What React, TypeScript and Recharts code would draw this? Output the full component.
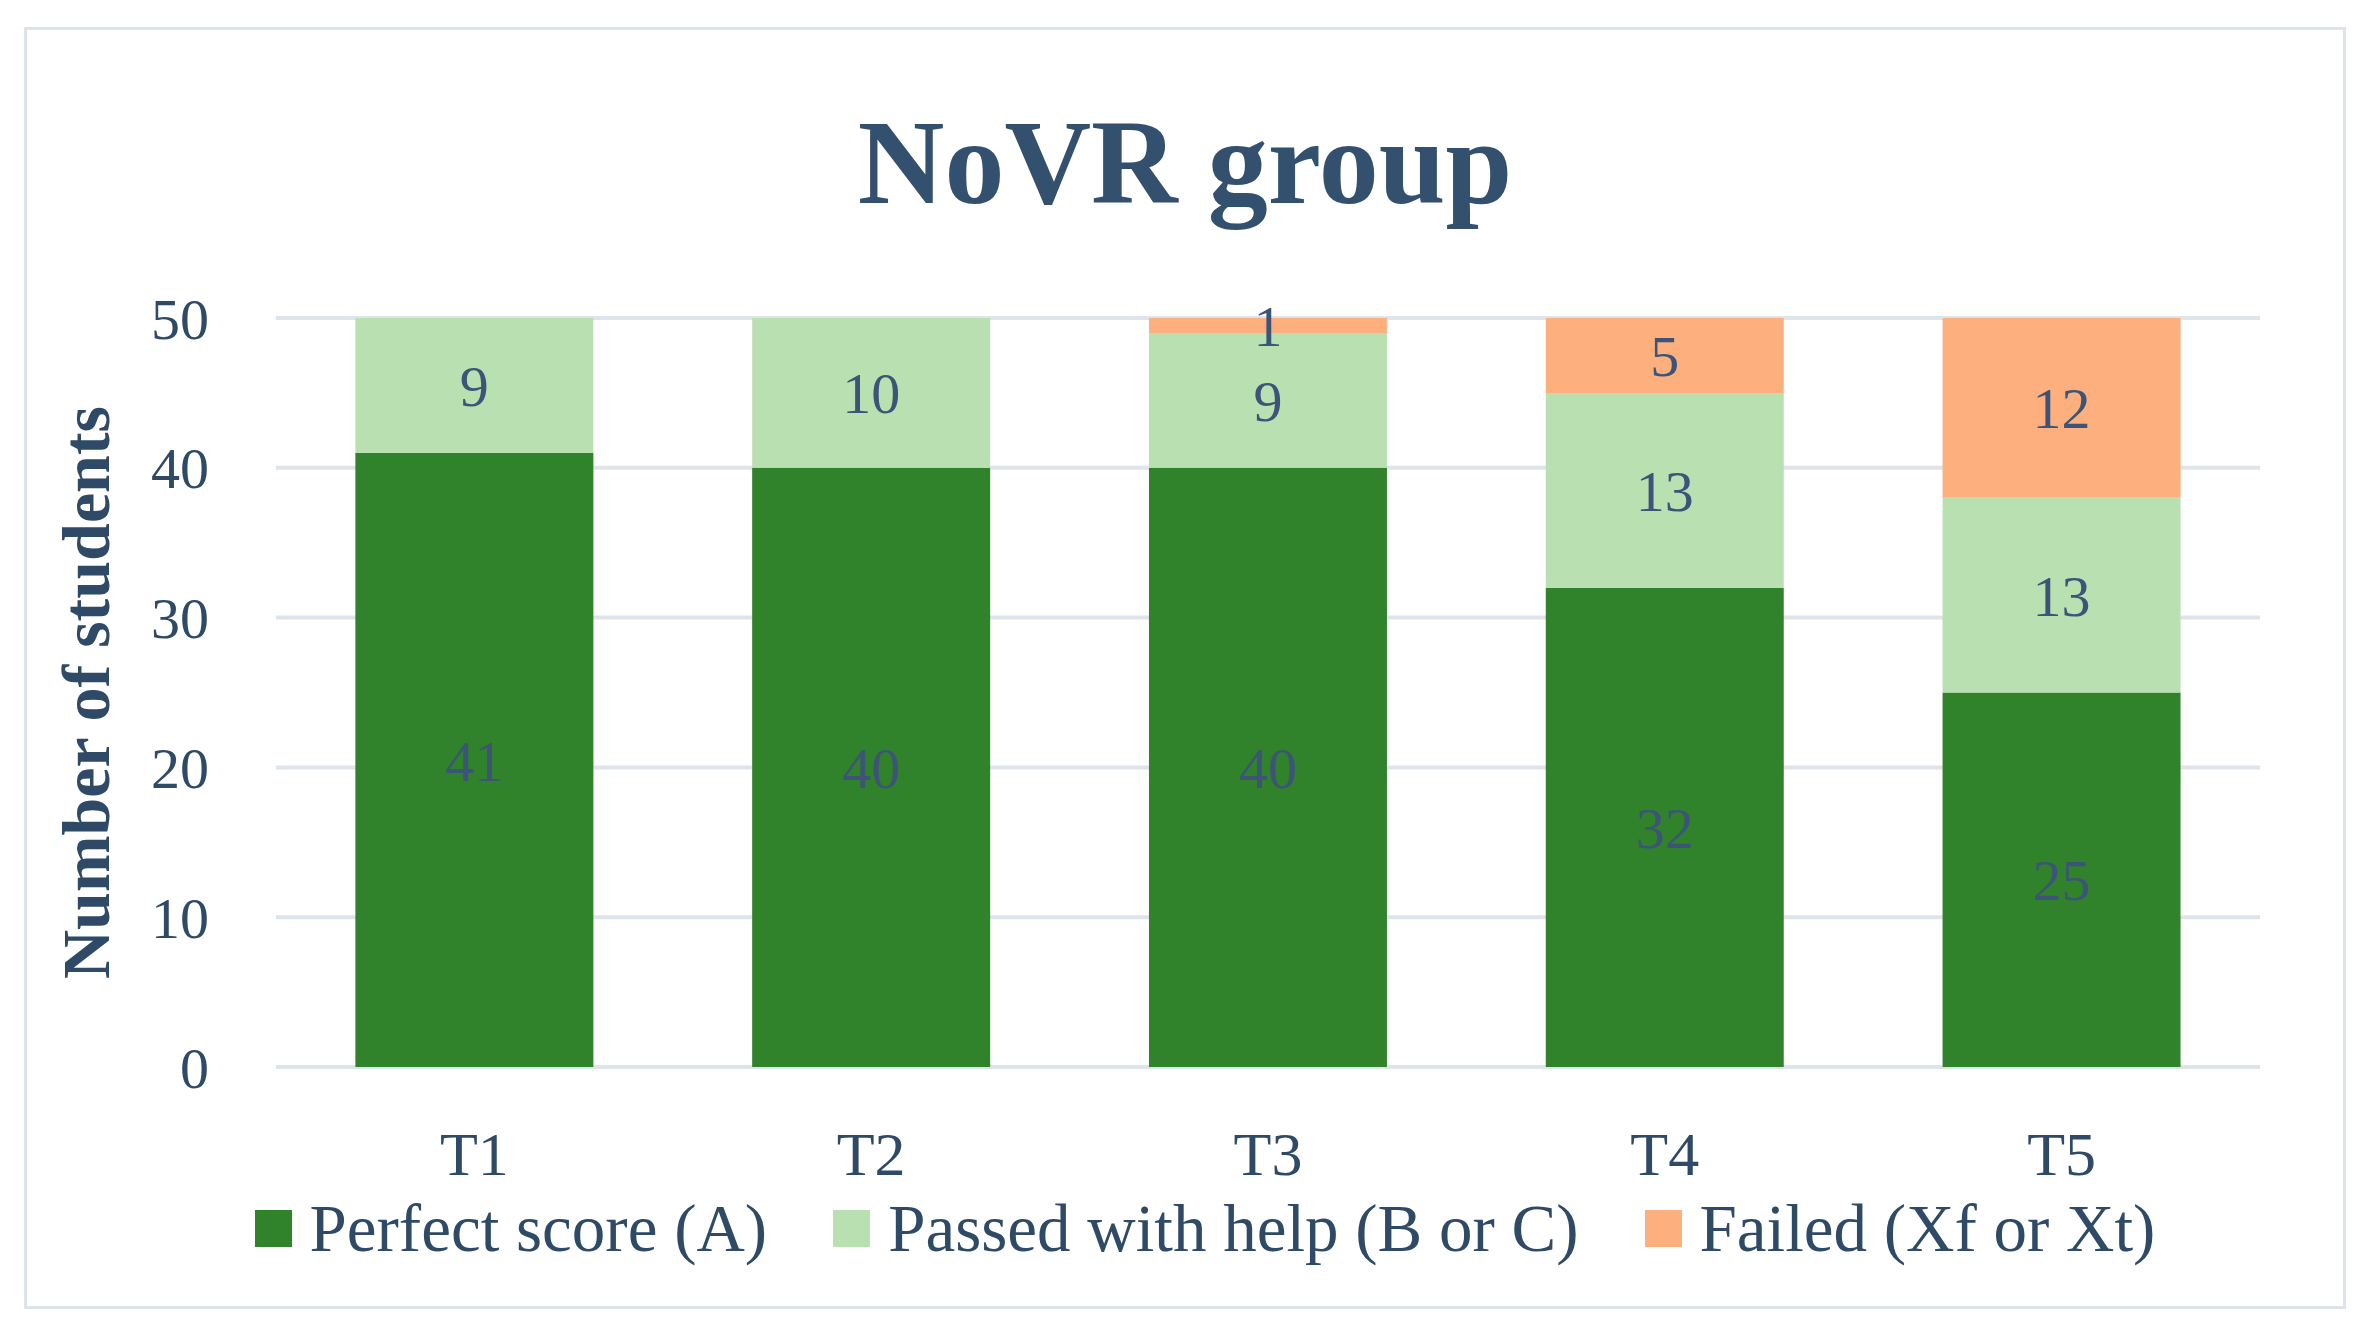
import React from 'react';
import { BarChart, Bar, XAxis, YAxis, CartesianGrid, LabelList } from 'recharts';

const categories = ['T1', 'T2', 'T3', 'T4', 'T5'];
const perfect = [41, 40, 40, 32, 25];
const passed = [9, 10, 9, 13, 13];
const failed = [0, 0, 1, 5, 12];
const yTicks = [0, 10, 20, 30, 40, 50];

const series = [
  { key: 'perfect', name: 'Perfect score (A)', color: '#31832b' },
  { key: 'passed', name: 'Passed with help (B or C)', color: '#b9e0b1' },
  { key: 'failed', name: 'Failed (Xf or Xt)', color: '#fdb07e' },
];

const data = categories.map((c, i) => ({
  name: c,
  perfect: perfect[i],
  passed: passed[i],
  failed: failed[i],
}));

const FONT = '"Liberation Serif", "DejaVu Serif", serif';
const TEXT = '#2f4a66';
const LABEL = '#3d5478';

const hideZero = (v: any) => (v === 0 ? '' : v);

const App: React.FC = () => {
  return (
    <div style={{ position: 'absolute', left: 0, top: 0, width: 2366, height: 1333, background: '#fff', fontFamily: FONT }}>
      <div
        style={{
          position: 'absolute',
          left: 24,
          top: 27,
          width: 2316,
          height: 1276,
          border: '3px solid #dce3ea',
        }}
      />
      <div
        style={{
          position: 'absolute',
          left: 24,
          width: 2322,
          top: 88,
          textAlign: 'center',
          fontSize: 120,
          fontWeight: 'bold',
          color: '#34506f',
          lineHeight: '150px',
        }}
      >
        NoVR group
      </div>
      <div style={{ position: 'absolute', left: 0, top: 0 }}>
        <BarChart
          width={2366}
          height={1333}
          data={data}
          margin={{ top: 318, right: 106, bottom: 236, left: 76 }}
          barCategoryGap="20%"
        >
          <CartesianGrid vertical={false} stroke="#dde4ec" strokeWidth={4} />
          <XAxis
            dataKey="name"
            height={30}
            axisLine={false}
            tickLine={false}
            tickMargin={58}
            tick={{ fill: TEXT, fontSize: 62, fontFamily: FONT }}
          />
          <YAxis
            width={200}
            domain={[0, 50]}
            ticks={yTicks}
            axisLine={false}
            tickLine={false}
            tickMargin={61}
            tick={{ fill: TEXT, fontSize: 58, fontFamily: FONT }}
            label={{
              value: 'Number of students',
              angle: -90,
              position: 'insideLeft',
              offset: 9,
              style: { textAnchor: 'middle', fill: TEXT, fontSize: 68, fontWeight: 'bold', fontFamily: FONT },
            }}
          />
          {series.map((s) => (
            <Bar key={s.key} dataKey={s.key} name={s.name} stackId="a" fill={s.color} isAnimationActive={false}>
              <LabelList
                dataKey={s.key}
                position="center"
                formatter={hideZero}
                style={{ fill: LABEL, fontSize: 58, fontFamily: FONT }}
              />
            </Bar>
          ))}
        </BarChart>
      </div>
      <div
        style={{
          position: 'absolute',
          left: 44,
          width: 2322,
          top: 1188,
          display: 'flex',
          justifyContent: 'center',
          alignItems: 'center',
          fontSize: 67,
          color: TEXT,
          lineHeight: '80px',
        }}
      >
        {series.map((s) => (
          <div key={s.key} style={{ display: 'flex', alignItems: 'center', margin: '0 33px' }}>
            <span style={{ display: 'inline-block', width: 37, height: 37, background: s.color, marginRight: 18 }} />
            <span>{s.name}</span>
          </div>
        ))}
      </div>
    </div>
  );
};

export default App;
